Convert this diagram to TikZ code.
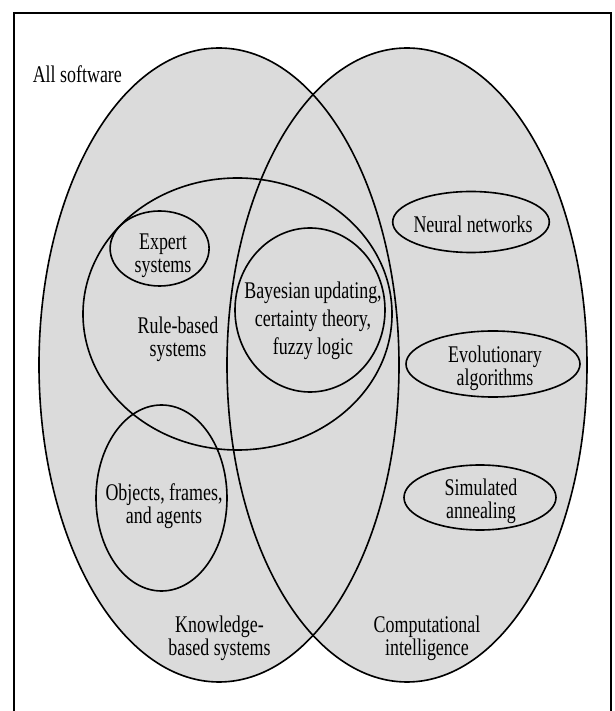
\documentclass[tikz,border=0pt]{standalone}
\usepackage{fontspec}
\setmainfont{Liberation Serif}[FakeStretch=0.75]
\usepackage{tikz}

\begin{document}
\begin{tikzpicture}[line width=1.15pt,
        lbl/.style={align=center, inner sep=0pt, font=\fontsize{17}{16.4}\selectfont},
        wide/.style={lbl, font=\fontsize{17}{19.9}\selectfont}]
    \useasboundingbox (0,0) rectangle (15.35,17.775);

    % frame, open at the bottom
    \draw[line width=1.8pt] (0.35,0) |- (15.275,17.45) -- (15.275,0);

    % the two big sets
    \fill[black!14] (5.475,8.65) ellipse [x radius=4.5, y radius=7.925];
    \fill[black!14] (10.175,8.65) ellipse [x radius=4.5, y radius=7.925];
    \draw (5.475,8.65) ellipse [x radius=4.5, y radius=7.925];
    \draw (10.175,8.65) ellipse [x radius=4.5, y radius=7.925];

    % subsets
    \draw (5.9375,9.925) ellipse [x radius=3.8625, y radius=3.4];
    \draw (3.99,11.5625) ellipse [x radius=1.2375, y radius=0.9375];
    \draw (7.75,10.025) ellipse [x radius=1.875, y radius=2.05];
    \draw (4.0375,5.325) ellipse [x radius=1.6375, y radius=2.325];
    \draw (11.775,12.225) ellipse [x radius=1.958, y radius=0.7625];
    \draw (12.325,8.675) ellipse [x radius=2.175, y radius=0.825];
    \draw (12.0,5.3375) ellipse [x radius=1.9, y radius=0.8125];

    % labels
    \node[lbl, anchor=base west] (all) at (0.8,15.7) {All software};
    \node[lbl] (expert) at (4.075,11.375) {Expert\\systems};
    \node[lbl] (rule) at (4.45,9.29) {Rule-based\\systems};
    \node[wide] (bayes) at (7.825,9.765) {Bayesian updating,\\certainty theory,\\fuzzy logic};
    \node[lbl] (objects) at (4.1,5.1325) {Objects, frames,\\and agents};
    \node[lbl, anchor=base] (neural) at (11.825,11.9575) {Neural networks};
    \node[lbl] (evol) at (12.375,8.565) {Evolutionary\\algorithms};
    \node[lbl] (anneal) at (12.025,5.25) {Simulated\\annealing};
    \node[lbl] (kbs) at (5.4875,1.825) {Knowledge-\\based systems};
    \node[lbl] (ci) at (10.675,1.825) {Computational\\intelligence};
\end{tikzpicture}
\end{document}
